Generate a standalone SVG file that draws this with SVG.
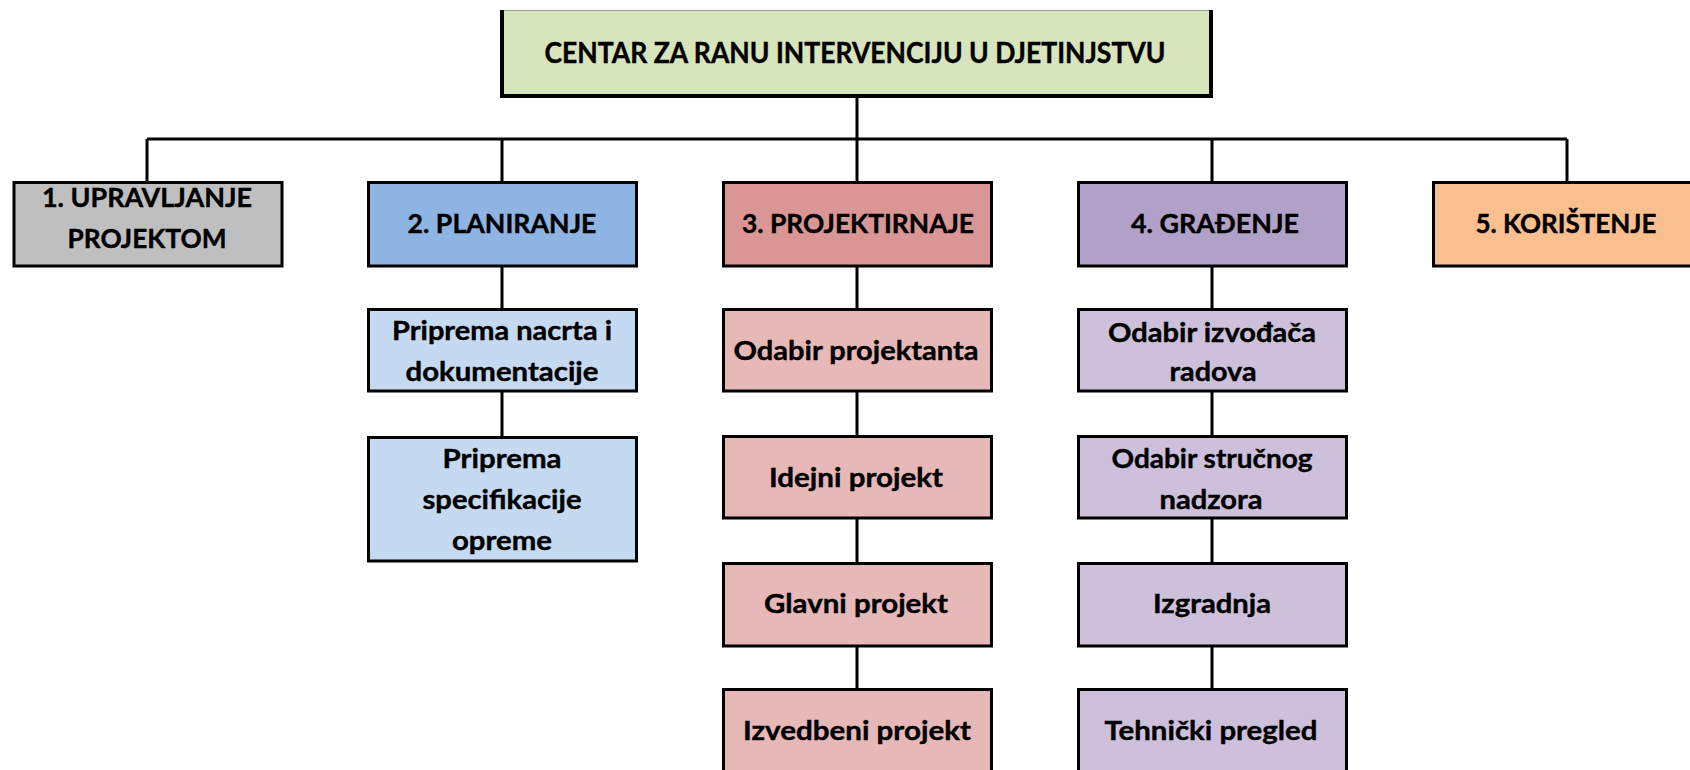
<svg xmlns="http://www.w3.org/2000/svg" width="1690" height="770" viewBox="0 0 1690 770">
<style>
  .box { stroke: #000; stroke-width: 3; }
  .t { font-family: Lato, "Open Sans", "Liberation Sans", sans-serif; font-weight: bold; font-size: 27px; fill: #000; text-anchor: middle; stroke: #000; stroke-width: 0.4; }
  .tt { font-size: 28px; }
  .ln { stroke: #000; stroke-width: 3; fill: none; }
  .g0 { fill: #D8E4BC; }
  .g1 { fill: #BFBFBF; }
  .b2 { fill: #8DB4E2; } .s2 { fill: #C5D9F1; }
  .b3 { fill: #DA9694; } .s3 { fill: #E6B8B7; }
  .b4 { fill: #B1A0C7; } .s4 { fill: #CCC0DA; }
  .b5 { fill: #FABF8F; }
</style>
<rect width="1690" height="770" fill="#fff"/>
<g id="connectors">
  <path class="ln" d="M857 97 V139 M147 139 H1567 M147 139 V182 M502 139 V182 M857 139 V182 M1212 139 V182 M1567 139 V182"/>
  <path class="ln" d="M502 266 V309 M502 391 V437"/>
  <path class="ln" d="M857 266 V309 M857 391 V436 M857 518 V563 M857 646 V689"/>
  <path class="ln" d="M1212 266 V309 M1212 391 V436 M1212 518 V563 M1212 646 V689"/>
</g>
<g id="root">
  <rect class="g0" x="501" y="10" width="711" height="86"/>
  <path d="M501 10.5 H1212" stroke="#9a9a9a" stroke-width="1"/>
  <path d="M502 10 V96 H1211 V10" fill="none" stroke="#000" stroke-width="4"/>
  <text class="t tt" x="855" y="63" textLength="621" lengthAdjust="spacingAndGlyphs">CENTAR ZA RANU INTERVENCIJU U DJETINJSTVU</text>
</g>
<g id="n1">
  <rect class="box g1" x="14" y="182.5" width="268" height="83.5"/>
  <text class="t" x="147" y="207" textLength="210" lengthAdjust="spacingAndGlyphs">1. UPRAVLJANJE</text>
  <text class="t" x="147" y="248" textLength="159" lengthAdjust="spacingAndGlyphs">PROJEKTOM</text>
</g>
<g id="n2">
  <rect class="box b2" x="368.5" y="182.5" width="268" height="83.5"/>
  <text class="t" x="502" y="233" textLength="189" lengthAdjust="spacingAndGlyphs">2. PLANIRANJE</text>
</g>
<g id="n3">
  <rect class="box b3" x="723.5" y="182.5" width="268" height="83.5"/>
  <text class="t" x="858" y="233" textLength="232" lengthAdjust="spacingAndGlyphs">3. PROJEKTIRNAJE</text>
</g>
<g id="n4">
  <rect class="box b4" x="1078.5" y="182.5" width="268" height="83.5"/>
  <text class="t" x="1215" y="233" textLength="168" lengthAdjust="spacingAndGlyphs">4. GRAĐENJE</text>
</g>
<g id="n5">
  <rect class="box b5" x="1433.5" y="182.5" width="268" height="83.5"/>
  <text class="t" x="1566" y="233" textLength="181" lengthAdjust="spacingAndGlyphs">5. KORIŠTENJE</text>
</g>
<g id="n2a">
  <rect class="box s2" x="368.5" y="309.5" width="268" height="81.5"/>
  <text class="t" x="502" y="340" textLength="220" lengthAdjust="spacingAndGlyphs">Priprema nacrta i</text>
  <text class="t" x="502" y="381" textLength="193" lengthAdjust="spacingAndGlyphs">dokumentacije</text>
</g>
<g id="n2b">
  <rect class="box s2" x="368.5" y="437.5" width="268" height="123.5"/>
  <text class="t" x="502" y="468" textLength="119" lengthAdjust="spacingAndGlyphs">Priprema</text>
  <text class="t" x="502" y="509" textLength="159" lengthAdjust="spacingAndGlyphs">specifikacije</text>
  <text class="t" x="502" y="550" textLength="100" lengthAdjust="spacingAndGlyphs">opreme</text>
</g>
<g id="n3a">
  <rect class="box s3" x="723.5" y="309.5" width="268" height="81.5"/>
  <text class="t" x="856" y="360" textLength="245" lengthAdjust="spacingAndGlyphs">Odabir projektanta</text>
</g>
<g id="n3b">
  <rect class="box s3" x="723.5" y="436.5" width="268" height="81.5"/>
  <text class="t" x="856" y="487" textLength="174" lengthAdjust="spacingAndGlyphs">Idejni projekt</text>
</g>
<g id="n3c">
  <rect class="box s3" x="723.5" y="563.5" width="268" height="82.5"/>
  <text class="t" x="856" y="613" textLength="184" lengthAdjust="spacingAndGlyphs">Glavni projekt</text>
</g>
<g id="n3d">
  <rect class="box s3" x="723.5" y="689.5" width="268" height="83.5"/>
  <text class="t" x="857" y="740" textLength="228" lengthAdjust="spacingAndGlyphs">Izvedbeni projekt</text>
</g>
<g id="n4a">
  <rect class="box s4" x="1078.5" y="309.5" width="268" height="81.5"/>
  <text class="t" x="1212" y="342" textLength="208" lengthAdjust="spacingAndGlyphs">Odabir izvođača</text>
  <text class="t" x="1213" y="381" textLength="87" lengthAdjust="spacingAndGlyphs">radova</text>
</g>
<g id="n4b">
  <rect class="box s4" x="1078.5" y="436.5" width="268" height="81.5"/>
  <text class="t" x="1212" y="468" textLength="201" lengthAdjust="spacingAndGlyphs">Odabir stručnog</text>
  <text class="t" x="1211" y="509" textLength="103" lengthAdjust="spacingAndGlyphs">nadzora</text>
</g>
<g id="n4c">
  <rect class="box s4" x="1078.5" y="563.5" width="268" height="82.5"/>
  <text class="t" x="1212" y="613" textLength="118" lengthAdjust="spacingAndGlyphs">Izgradnja</text>
</g>
<g id="n4d">
  <rect class="box s4" x="1078.5" y="689.5" width="268" height="83.5"/>
  <text class="t" x="1211" y="740" textLength="213" lengthAdjust="spacingAndGlyphs">Tehnički pregled</text>
</g>
</svg>
